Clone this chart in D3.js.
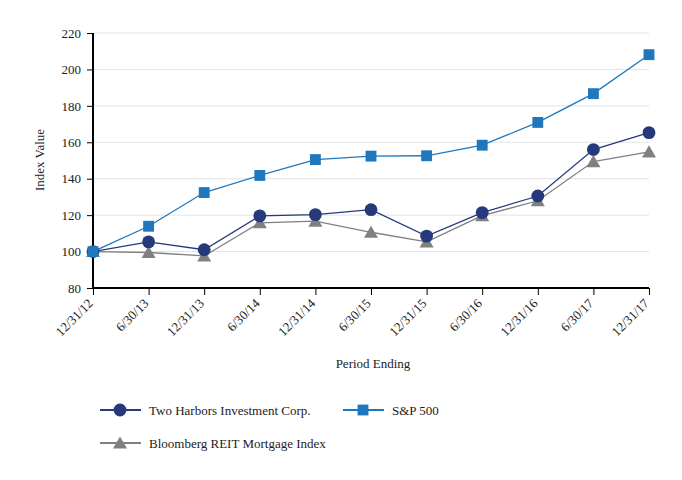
<!DOCTYPE html>
<html><head><meta charset="utf-8">
<script src="https://cdn.jsdelivr.net/npm/d3@7"></script>
<style>body{margin:0;background:#fff;} svg{display:block;} svg text{font-family:"Liberation Serif","Times New Roman","DejaVu Serif",serif !important;}</style>
</head><body><svg id="c" width="682" height="480"></svg>
<script>
const periods = ["12/31/12","6/30/13","12/31/13","6/30/14","12/31/14","6/30/15","12/31/15","6/30/16","12/31/16","6/30/17","12/31/17"];
const twoHarbors = [100, 105.3, 101.0, 119.6, 120.3, 123.0, 108.5, 121.4, 130.5, 156.0, 165.3];
const sp500 = [100, 113.9, 132.4, 141.8, 150.5, 152.4, 152.6, 158.4, 170.9, 186.7, 208.1];
const bloomberg = [100, 99.5, 97.6, 115.8, 116.7, 110.6, 105.3, 119.7, 127.9, 149.4, 154.7];
const yTicks = [80, 100, 120, 140, 160, 180, 200, 220];
const seriesNames = ["Two Harbors Investment Corp.", "S&P 500", "Bloomberg REIT Mortgage Index"];

const svg = d3.select("#c");
const font = "Liberation Serif";
const x = d3.scalePoint().domain(periods).range([93, 649]);
const y = d3.scaleLinear().domain([80, 220]).range([288, 33]);

// grid
svg.append("g").selectAll("line").data(yTicks.slice(1)).join("line")
  .attr("x1", 93).attr("x2", 649).attr("y1", d => y(d)).attr("y2", d => y(d))
  .attr("stroke", "#e3e3e3").attr("stroke-width", 1);

// y axis
const ya = svg.append("g").attr("transform", "translate(93,0)")
  .call(d3.axisLeft(y).tickValues(yTicks).tickSize(6).tickPadding(6));
ya.attr("font-family", font);
ya.select(".domain").attr("stroke", "#000").attr("stroke-width", 2).attr("d", "M0,33V289");
ya.selectAll(".tick line").attr("stroke", "#000");
ya.selectAll("text").attr("font-size", 13).attr("fill", "#222");

// x axis
const xa = svg.append("g").attr("transform", "translate(0,288)")
  .call(d3.axisBottom(x).tickSize(7).tickPadding(4));
xa.attr("font-family", font);
xa.select(".domain").attr("stroke", "#000").attr("stroke-width", 2).attr("d", "M92,0H649");
xa.selectAll(".tick line").attr("stroke", "#000");
xa.selectAll("text").attr("font-size", 13).attr("fill", "#222")
  .attr("text-anchor", "end").attr("x", 0).attr("y", 0).attr("dy", "0.35em")
  .attr("transform", "translate(-3,13) rotate(-45)");

// axis titles
svg.append("text").attr("transform", "translate(44,160) rotate(-90)").attr("text-anchor", "middle")
  .attr("font-size", 13).attr("fill", "#222").text("Index Value");
svg.append("text").attr("x", 373).attr("y", 368).attr("text-anchor", "middle")
  .attr("font-size", 13).attr("fill", "#222").text("Period Ending");

const series = [
  {name: seriesNames[2], vals: bloomberg, color: "#808080", sym: d3.symbolTriangle, size: 85},
  {name: seriesNames[0], vals: twoHarbors, color: "#26397a", sym: d3.symbolCircle, size: 130},
  {name: seriesNames[1], vals: sp500, color: "#1f78bd", sym: d3.symbolSquare, size: 118}
];
const line = d3.line().x((d, i) => x(periods[i])).y(d => y(d));
series.forEach(s => {
  svg.append("path").attr("d", line(s.vals)).attr("fill", "none").attr("stroke", s.color).attr("stroke-width", 1.3);
});
series.forEach(s => {
  svg.append("g").selectAll("path").data(s.vals).join("path")
    .attr("d", d3.symbol().type(s.sym).size(s.size))
    .attr("transform", (d, i) => `translate(${x(periods[i])},${y(d) + (s.sym === d3.symbolTriangle ? 1.5 : 0)})`)
    .attr("fill", s.color);
});

// legend
const leg = [
  {s: series[1], lx: 100, ly: 410},
  {s: series[2], lx: 343, ly: 410},
  {s: series[0], lx: 100, ly: 443}
];
leg.forEach(l => {
  const g = svg.append("g");
  g.append("line").attr("x1", l.lx).attr("x2", l.lx + 41).attr("y1", l.ly).attr("y2", l.ly)
    .attr("stroke", l.s.color).attr("stroke-width", 2);
  g.append("path").attr("d", d3.symbol().type(l.s.sym).size(l.s.size))
    .attr("transform", `translate(${l.lx + 20},${l.ly + (l.s.sym === d3.symbolTriangle ? 1.5 : 0)})`).attr("fill", l.s.color);
  g.append("text").attr("x", l.lx + 49).attr("y", l.ly + 4.5).attr("font-size", 13)
    .attr("fill", "#222").text(l.s.name);
});
</script></body></html>
